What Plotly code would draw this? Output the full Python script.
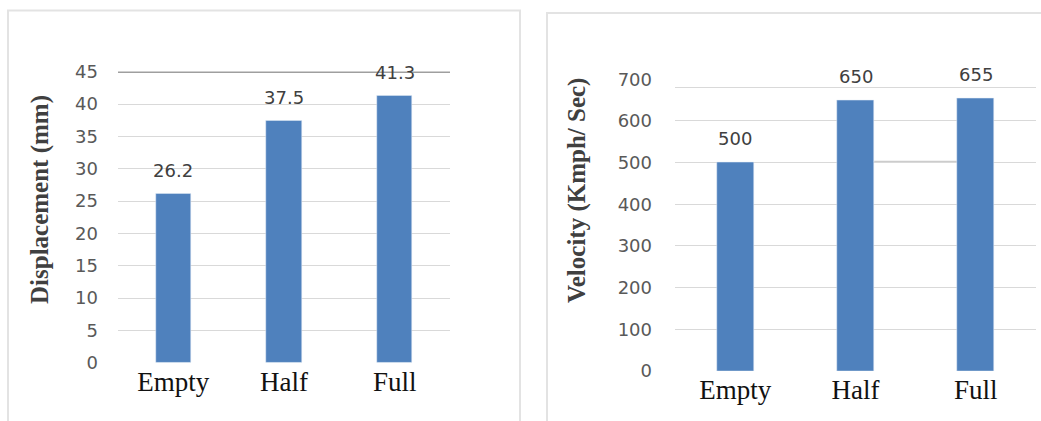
import plotly.graph_objects as go

# Load states shared by both panels
categories = ["Empty", "Half", "Full"]

# Left panel: displacement
displacement_mm = [26.2, 37.5, 41.3]
disp_ticks = [0, 5, 10, 15, 20, 25, 30, 35, 40, 45]

# Right panel: velocity
velocity_kmph = [500, 650, 655]
vel_ticks = [0, 100, 200, 300, 400, 500, 600, 700]
vel_grid = [0, 100, 200, 300, 400, 500, 600, 681]

W, H = 1041, 421
BAR = "#4f81bd"
GRID = "#d9d9d9"
TICK_FONT = dict(family="DejaVu Sans", size=18, color="#595959")
CAT_FONT = dict(family="Liberation Serif", size=27, color="#111111")
TITLE_FONT = dict(family="Liberation Serif", size=25, color="#404040")
LABEL_FONT = dict(family="DejaVu Sans", size=18, color="#404040")


def px_x(p):
    return p / W


def px_y(p):
    return 1 - p / H


fig = go.Figure()

fig.add_trace(go.Bar(x=categories, y=displacement_mm, marker_color=BAR,
                     width=0.32, xaxis="x", yaxis="y", showlegend=False))
fig.add_trace(go.Bar(x=categories, y=velocity_kmph, marker_color=BAR,
                     width=0.31, xaxis="x2", yaxis="y2", showlegend=False))

annotations = []
for c, v in zip(categories, displacement_mm):
    annotations.append(dict(x=c, y=v, xref="x", yref="y", text=f"{v:.1f}",
                            showarrow=False, yshift=23, yanchor="middle",
                            font=LABEL_FONT))
for c, v in zip(categories, velocity_kmph):
    annotations.append(dict(x=c, y=v, xref="x2", yref="y2", text=f"{v}",
                            showarrow=False, yshift=24, yanchor="middle",
                            font=LABEL_FONT))

annotations.append(dict(x=px_x(40), y=px_y(200), xref="paper", yref="paper",
                        text="<b>Displacement (mm)</b>", textangle=-90,
                        showarrow=False, font=TITLE_FONT,
                        xanchor="center", yanchor="middle"))
annotations.append(dict(x=px_x(577), y=px_y(191), xref="paper", yref="paper",
                        text="<b>Velocity (Kmph/ Sec)</b>", textangle=-90,
                        showarrow=False, font=TITLE_FONT,
                        xanchor="center", yanchor="middle"))

shapes = [
    # panel frames
    dict(type="rect", xref="paper", yref="paper",
         x0=px_x(8), x1=px_x(520), y0=-0.05, y1=px_y(10.5),
         line=dict(color="#e3e3e3", width=2), layer="below"),
    dict(type="rect", xref="paper", yref="paper",
         x0=px_x(547), x1=1.05, y0=-0.05, y1=px_y(13),
         line=dict(color="#e3e3e3", width=2), layer="below"),
    # dark top rule on the displacement panel
    dict(type="line", xref="x domain", yref="y", x0=0, x1=1,
         y0=45, y1=45, line=dict(color="#404040", width=1.8), layer="above"),
    # heavier segment on the 500 gridline between Half and Full
    dict(type="line", xref="x2", yref="y2", x0=1.155, x1=1.845,
         y0=502, y1=502, line=dict(color="#cccccc", width=2.2), layer="below"),
]

fig.update_layout(
    width=W, height=H,
    margin=dict(l=0, r=0, t=0, b=0, autoexpand=False),
    paper_bgcolor="white", plot_bgcolor="white",
    annotations=annotations, shapes=shapes,
    bargap=0,
    xaxis=dict(domain=[px_x(118), px_x(450)], anchor="y", automargin=False,
               showgrid=False, zeroline=False, showline=False,
               tickfont=CAT_FONT, ticks="", ticklabelstandoff=0),
    yaxis=dict(domain=[px_y(362.7), px_y(71.7)], anchor="x", automargin=False,
               range=[0, 45], tickvals=disp_ticks,
               showgrid=True, gridcolor=GRID, gridwidth=1.3,
               zeroline=False, showline=False, ticks="",
               tickfont=TICK_FONT, ticklabelstandoff=19),
    xaxis2=dict(domain=[px_x(675), px_x(1036)], anchor="y2", automargin=False,
                showgrid=False, zeroline=False, showline=False,
                tickfont=CAT_FONT, ticks="", ticklabelstandoff=0),
    yaxis2=dict(domain=[px_y(371), px_y(79.3)], anchor="x2", automargin=False,
                range=[0, 700], tickvals=vel_ticks,
                showgrid=False, zeroline=False, showline=False, ticks="",
                tickfont=TICK_FONT, ticklabelstandoff=22,
                minor=dict(tickvals=vel_grid, showgrid=True,
                           gridcolor=GRID, gridwidth=1.3, ticks="")),
)

fig.write_html("out.html")
